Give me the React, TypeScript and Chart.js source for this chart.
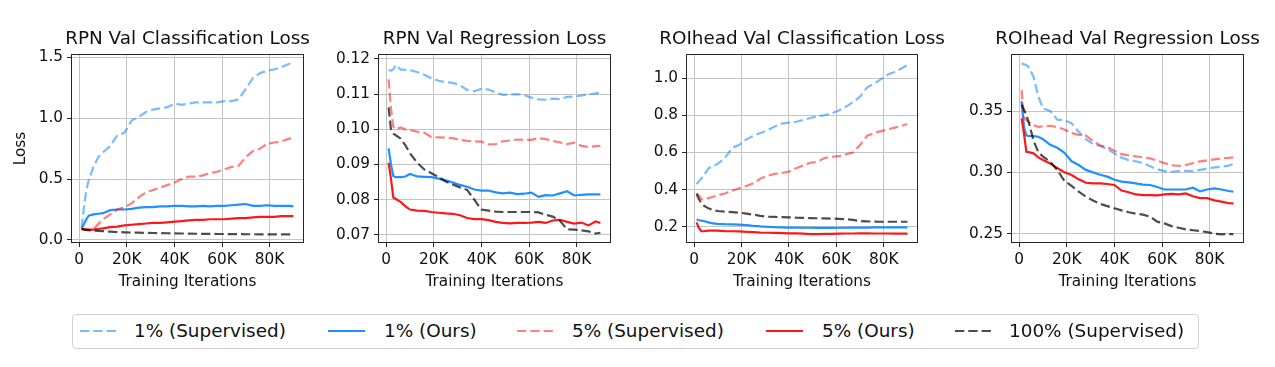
import React, { useEffect, useRef } from "react";
import { Chart, registerables } from "chart.js";

Chart.register(...registerables);

// ---------- data ----------
const ITER_K = [1, 2, 3, 4, 6, 8, 10, 13, 16, 19, 22, 25, 28, 31, 34, 37, 40, 43, 46, 49, 52, 55, 58, 61, 64, 67, 70, 73, 76, 79, 82, 85, 88, 90];

const SERIES_LABELS = ["1% (Supervised)", "1% (Ours)", "5% (Supervised)", "5% (Ours)", "100% (Supervised)"];
const PANEL_TITLES = ["RPN Val Classification Loss", "RPN Val Regression Loss", "ROIhead Val Classification Loss", "ROIhead Val Regression Loss"];
const X_TICKS_K = [0, 20, 40, 60, 80];

// RPN Val Classification Loss
const rpnClsSup1 = [0.10, 0.27, 0.41, 0.49, 0.60, 0.68, 0.72, 0.77, 0.86, 0.88, 0.98, 1.01, 1.05, 1.07, 1.08, 1.09, 1.12, 1.11, 1.12, 1.13, 1.13, 1.13, 1.13, 1.14, 1.14, 1.155, 1.24, 1.33, 1.37, 1.39, 1.40, 1.42, 1.445, 1.456];
const rpnClsOurs1 = [0.09, 0.13, 0.17, 0.20, 0.21, 0.215, 0.22, 0.245, 0.25, 0.25, 0.255, 0.265, 0.27, 0.27, 0.275, 0.275, 0.28, 0.28, 0.275, 0.275, 0.28, 0.275, 0.28, 0.28, 0.285, 0.29, 0.295, 0.28, 0.28, 0.285, 0.28, 0.28, 0.28, 0.275];
const rpnClsSup5 = [0.09, 0.085, 0.08, 0.08, 0.09, 0.13, 0.17, 0.21, 0.25, 0.27, 0.30, 0.35, 0.39, 0.41, 0.43, 0.45, 0.47, 0.50, 0.52, 0.52, 0.53, 0.55, 0.56, 0.58, 0.60, 0.61, 0.68, 0.73, 0.75, 0.79, 0.80, 0.81, 0.83, 0.84];
const rpnClsOurs5 = [0.09, 0.09, 0.088, 0.085, 0.085, 0.09, 0.095, 0.105, 0.11, 0.12, 0.125, 0.13, 0.135, 0.14, 0.14, 0.145, 0.15, 0.155, 0.16, 0.165, 0.165, 0.17, 0.17, 0.17, 0.175, 0.18, 0.18, 0.185, 0.19, 0.19, 0.19, 0.195, 0.195, 0.195];
const rpnClsSup100 = [0.09, 0.085, 0.082, 0.08, 0.077, 0.074, 0.072, 0.068, 0.065, 0.063, 0.061, 0.06, 0.058, 0.057, 0.056, 0.055, 0.054, 0.053, 0.052, 0.051, 0.05, 0.05, 0.049, 0.049, 0.048, 0.048, 0.047, 0.047, 0.046, 0.046, 0.045, 0.045, 0.045, 0.045];

// RPN Val Regression Loss
const rpnRegSup1 = [0.1168, 0.1167, 0.117, 0.1183, 0.117, 0.1169, 0.1168, 0.1163, 0.1155, 0.1145, 0.1138, 0.1134, 0.1132, 0.1125, 0.1112, 0.1108, 0.1115, 0.1113, 0.1105, 0.1098, 0.1099, 0.11, 0.1097, 0.109, 0.1085, 0.1084, 0.1087, 0.1086, 0.1092, 0.1093, 0.1096, 0.1099, 0.1102, 0.1104];
const rpnRegOurs1 = [0.0946, 0.09, 0.0867, 0.0864, 0.0864, 0.0866, 0.0873, 0.0866, 0.0865, 0.0864, 0.086, 0.0855, 0.0849, 0.0842, 0.0837, 0.0829, 0.0826, 0.0826, 0.0821, 0.0818, 0.082, 0.0816, 0.0817, 0.082, 0.0808, 0.0813, 0.0812, 0.0818, 0.0824, 0.0812, 0.0814, 0.0815, 0.0815, 0.0815];
const rpnRegSup5 = [0.1142, 0.106, 0.1007, 0.1, 0.1005, 0.1, 0.0998, 0.0993, 0.099, 0.0978, 0.0977, 0.0976, 0.0975, 0.097, 0.0967, 0.0966, 0.0965, 0.0957, 0.0958, 0.0966, 0.0968, 0.0971, 0.097, 0.097, 0.0975, 0.0972, 0.0967, 0.0963, 0.0958, 0.0962, 0.0953, 0.095, 0.0952, 0.0953];
const rpnRegOurs5 = [0.0905, 0.086, 0.0806, 0.0802, 0.0794, 0.0782, 0.0772, 0.0769, 0.0768, 0.0765, 0.0763, 0.0761, 0.076, 0.0756, 0.0748, 0.0745, 0.0745, 0.0742, 0.0737, 0.0734, 0.0733, 0.0734, 0.0734, 0.0735, 0.0737, 0.0734, 0.0741, 0.0743, 0.0737, 0.0732, 0.0735, 0.0727, 0.0738, 0.0734];
const rpnRegSup100 = [0.1062, 0.1, 0.0988, 0.0983, 0.0974, 0.0955, 0.0932, 0.0905, 0.0886, 0.0875, 0.0864, 0.0852, 0.0843, 0.0835, 0.0828, 0.08, 0.0772, 0.0769, 0.0766, 0.0765, 0.0765, 0.0765, 0.0765, 0.0765, 0.0764, 0.0757, 0.0752, 0.074, 0.0716, 0.0715, 0.0713, 0.071, 0.0704, 0.0706];

// ROIhead Val Classification Loss
const roiClsSup1 = [0.43, 0.445, 0.46, 0.475, 0.515, 0.525, 0.54, 0.57, 0.625, 0.64, 0.67, 0.69, 0.705, 0.72, 0.74, 0.755, 0.76, 0.765, 0.775, 0.785, 0.795, 0.8, 0.81, 0.825, 0.845, 0.87, 0.9, 0.95, 0.97, 0.995, 1.02, 1.035, 1.055, 1.07];
const roiClsOurs1 = [0.24, 0.236, 0.234, 0.232, 0.225, 0.219, 0.217, 0.215, 0.214, 0.213, 0.21, 0.206, 0.203, 0.201, 0.199, 0.198, 0.197, 0.197, 0.196, 0.196, 0.195, 0.195, 0.195, 0.196, 0.196, 0.197, 0.197, 0.197, 0.198, 0.198, 0.198, 0.198, 0.198, 0.198];
const roiClsSup5 = [0.38, 0.37, 0.35, 0.345, 0.355, 0.362, 0.37, 0.38, 0.395, 0.408, 0.42, 0.435, 0.46, 0.475, 0.485, 0.49, 0.497, 0.515, 0.53, 0.545, 0.55, 0.57, 0.577, 0.58, 0.59, 0.6, 0.64, 0.69, 0.705, 0.715, 0.725, 0.735, 0.745, 0.753];
const roiClsOurs5 = [0.225, 0.195, 0.177, 0.177, 0.18, 0.181, 0.18, 0.178, 0.177, 0.176, 0.174, 0.172, 0.17, 0.169, 0.168, 0.167, 0.166, 0.166, 0.164, 0.162, 0.162, 0.163, 0.163, 0.164, 0.165, 0.165, 0.166, 0.166, 0.165, 0.165, 0.165, 0.164, 0.164, 0.164];
const roiClsSup100 = [0.377, 0.35, 0.327, 0.315, 0.3, 0.29, 0.286, 0.282, 0.28, 0.277, 0.272, 0.266, 0.26, 0.255, 0.254, 0.253, 0.252, 0.25, 0.249, 0.248, 0.247, 0.246, 0.245, 0.244, 0.242, 0.238, 0.232, 0.23, 0.229, 0.228, 0.228, 0.228, 0.228, 0.228];

// ROIhead Val Regression Loss
const roiRegSup1 = [0.389, 0.388, 0.3875, 0.386, 0.378, 0.362, 0.352, 0.35, 0.343, 0.3425, 0.34, 0.333, 0.327, 0.323, 0.3215, 0.319, 0.3155, 0.312, 0.31, 0.309, 0.3075, 0.305, 0.3025, 0.301, 0.3005, 0.301, 0.3012, 0.301, 0.302, 0.303, 0.304, 0.3046, 0.3055, 0.3068];
const roiRegOurs1 = [0.358, 0.337, 0.33, 0.3298, 0.3295, 0.329, 0.327, 0.3225, 0.32, 0.316, 0.309, 0.306, 0.302, 0.3, 0.298, 0.2965, 0.294, 0.2925, 0.2918, 0.291, 0.29, 0.2897, 0.288, 0.286, 0.286, 0.286, 0.286, 0.2875, 0.2845, 0.286, 0.287, 0.286, 0.2848, 0.2842];
const roiRegSup5 = [0.367, 0.345, 0.3425, 0.341, 0.3385, 0.337, 0.3375, 0.338, 0.3368, 0.335, 0.332, 0.3305, 0.33, 0.3255, 0.322, 0.3205, 0.3177, 0.3148, 0.3138, 0.313, 0.3122, 0.3114, 0.3095, 0.3075, 0.3058, 0.3052, 0.306, 0.3075, 0.309, 0.3098, 0.3106, 0.3114, 0.3118, 0.3122];
const roiRegOurs5 = [0.344, 0.3318, 0.3168, 0.3165, 0.3155, 0.3122, 0.31, 0.3073, 0.3035, 0.3, 0.2978, 0.2943, 0.2915, 0.291, 0.291, 0.2905, 0.2897, 0.2852, 0.2838, 0.282, 0.2815, 0.2815, 0.2813, 0.282, 0.2825, 0.282, 0.2828, 0.2805, 0.279, 0.279, 0.2772, 0.2761, 0.2748, 0.2747];
const roiRegSup100 = [0.355, 0.351, 0.3467, 0.341, 0.326, 0.3165, 0.3128, 0.3087, 0.302, 0.293, 0.289, 0.2842, 0.2802, 0.277, 0.2743, 0.2725, 0.2707, 0.269, 0.2675, 0.2663, 0.2655, 0.2639, 0.2598, 0.2584, 0.2562, 0.2548, 0.2535, 0.2528, 0.2522, 0.2512, 0.25, 0.2495, 0.2497, 0.2497];

// y-axis settings per panel
const Y_MIN = [-0.025, 0.0677, 0.114, 0.2424];
const Y_MAX = [1.527, 0.1214, 1.129, 0.3965];
const Y_STEP = [0.5, 0.01, 0.2, 0.05];
const Y_DECIMALS = [1, 2, 1, 2];

// ---------- styles ----------
const FONT = "'DejaVu Sans', 'Liberation Sans', sans-serif";
const COLORS = ["rgba(30,144,255,0.6)", "rgb(30,144,255)", "rgba(255,0,0,0.5)", "rgb(250,25,25)", "rgba(0,0,0,0.7)"];
const DASHED = [true, false, true, false, true];
const DASH = [9.3, 4];
const LINE_W = 2.2;

// layout: plot-area left edge, plot width, y-axis area width
const PLOT_LEFT = [71, 378, 686, 1011];
const PLOT_W = [233, 233, 232, 233];
const AXIS_W = [71, 60, 60, 60];
const CANVAS_H = 300;
const X_AXIS_H = 57;

// legend layout (x of line sample start, x of label start)
const LEGEND_LINE_X = [80, 328, 517, 766, 955];
const LEGEND_TEXT_X = [134, 384, 572, 822, 1009];

const framePlugin = {
  id: "frame",
  afterDatasetsDraw(chart: any) {
    const { ctx, chartArea: a } = chart;
    ctx.save();
    ctx.strokeStyle = "#262626";
    ctx.lineWidth = 1;
    const l = Math.round(a.left) + 0.5;
    const t = Math.round(a.top) + 0.5;
    const r = Math.round(a.right) - 0.5;
    const b = Math.round(a.bottom) - 0.5;
    ctx.strokeRect(l, t, r - l, b - t);
    ctx.restore();
  },
};

function Panel({ idx, series }: { idx: number; series: number[][] }) {
  const ref = useRef<HTMLCanvasElement>(null);
  const aw = AXIS_W[idx];
  const width = PLOT_W[idx] + 2 * aw;
  useEffect(() => {
    if (!ref.current) return;
    const datasets = series.map((vals, i) => ({
      label: SERIES_LABELS[i],
      data: ITER_K.map((k, j) => ({ x: k, y: vals[j] })),
      borderColor: COLORS[i],
      backgroundColor: COLORS[i],
      borderWidth: LINE_W,
      borderDash: DASHED[i] ? DASH : [],
      pointRadius: 0,
      tension: 0,
      fill: false,
      order: series.length - 1 - i,
      yAxisID: "y",
    }));
    const chart = new Chart(ref.current, {
      type: "line",
      data: { datasets },
      plugins: [framePlugin],
      options: {
        responsive: false,
        animation: false,
        devicePixelRatio: 1,
        layout: { padding: 0 },
        plugins: {
          legend: { display: false },
          tooltip: { enabled: false },
          title: {
            display: true,
            text: PANEL_TITLES[idx],
            color: "#111",
            font: { family: FONT, size: 18.4, weight: "normal", lineHeight: 1.2 },
            padding: { top: 28.5, bottom: 3.4 },
          },
        },
        scales: {
          x: {
            type: "linear",
            min: -3.45,
            max: 94.45,
            afterFit: (s: any) => {
              s.height = X_AXIS_H;
            },
            afterBuildTicks: (s: any) => {
              s.ticks = X_TICKS_K.map((v) => ({ value: v }));
            },
            ticks: {
              includeBounds: false,
              stepSize: 20,
              padding: 4,
              color: "#111",
              font: { family: FONT, size: 15.3 },
              maxRotation: 0,
              callback: (v: any) => (Number(v) === 0 ? "0" : `${v}K`),
            },
            grid: { color: "#c4c4c4", lineWidth: 1, tickColor: "#262626", tickLength: 4 },
            border: { display: false },
            title: {
              display: true,
              text: "Training Iterations",
              color: "#111",
              font: { family: FONT, size: 15.3, lineHeight: 1.2 },
              padding: { top: 0, bottom: 9 },
            },
          },
          y: {
            type: "linear",
            position: "left",
            min: Y_MIN[idx],
            max: Y_MAX[idx],
            afterFit: (s: any) => {
              s.width = aw;
            },
            ticks: {
              includeBounds: false,
              stepSize: Y_STEP[idx],
              padding: 4,
              color: "#111",
              font: { family: FONT, size: 15.3 },
              callback: (v: any) => Number(v).toFixed(Y_DECIMALS[idx]),
            },
            grid: { color: "#c4c4c4", lineWidth: 1, tickColor: "#262626", tickLength: 4 },
            border: { display: false },
            title: {
              display: idx === 0,
              text: "Loss",
              color: "#111",
              font: { family: FONT, size: 15.3, lineHeight: 1.2 },
              padding: { top: 11.5, bottom: 0 },
            },
          },
          // empty spacer on the right so the title is centred over the plot area
          ySpacer: {
            type: "linear",
            position: "right",
            min: 0,
            max: 1,
            afterFit: (s: any) => {
              s.width = aw;
            },
            ticks: { display: false },
            grid: { display: false, drawOnChartArea: false, drawTicks: false },
            border: { display: false },
          },
        },
      },
    } as any);
    return () => chart.destroy();
  }, []);
  return (
    <canvas
      ref={ref}
      width={width}
      height={CANVAS_H}
      style={{ position: "absolute", left: PLOT_LEFT[idx] - aw, top: 0, width, height: CANVAS_H }}
    />
  );
}

function Legend() {
  return (
    <div
      style={{
        position: "absolute",
        left: 72,
        top: 314,
        width: 1127,
        height: 35,
        boxSizing: "border-box",
        border: "1px solid #d0d0d0",
        borderRadius: 4,
        background: "rgba(255,255,255,0.8)",
        fontFamily: FONT,
        fontSize: 18.4,
        color: "#111",
        whiteSpace: "nowrap",
      }}
    >
      {SERIES_LABELS.map((label, i) => (
        <React.Fragment key={label}>
          <svg
            width={37}
            height={10}
            style={{ position: "absolute", left: LEGEND_LINE_X[i] - 73, top: 11, display: "block" }}
          >
            <line
              x1={0}
              y1={5}
              x2={37}
              y2={5}
              stroke={COLORS[i]}
              strokeWidth={LINE_W}
              strokeDasharray={DASHED[i] ? DASH.join(" ") : undefined}
            />
          </svg>
          <span
            style={{
              position: "absolute",
              left: LEGEND_TEXT_X[i] - 73,
              top: 4,
              lineHeight: "24px",
            }}
          >
            {label}
          </span>
        </React.Fragment>
      ))}
    </div>
  );
}

export default function App() {
  const panels = [
    [rpnClsSup1, rpnClsOurs1, rpnClsSup5, rpnClsOurs5, rpnClsSup100],
    [rpnRegSup1, rpnRegOurs1, rpnRegSup5, rpnRegOurs5, rpnRegSup100],
    [roiClsSup1, roiClsOurs1, roiClsSup5, roiClsOurs5, roiClsSup100],
    [roiRegSup1, roiRegOurs1, roiRegSup5, roiRegOurs5, roiRegSup100],
  ];
  return (
    <div
      style={{
        position: "fixed",
        left: 0,
        top: 0,
        width: 1275,
        height: 367,
        overflow: "hidden",
        background: "#fff",
      }}
    >
      {panels.map((s, i) => (
        <Panel key={i} idx={i} series={s} />
      ))}
      <Legend />
    </div>
  );
}
